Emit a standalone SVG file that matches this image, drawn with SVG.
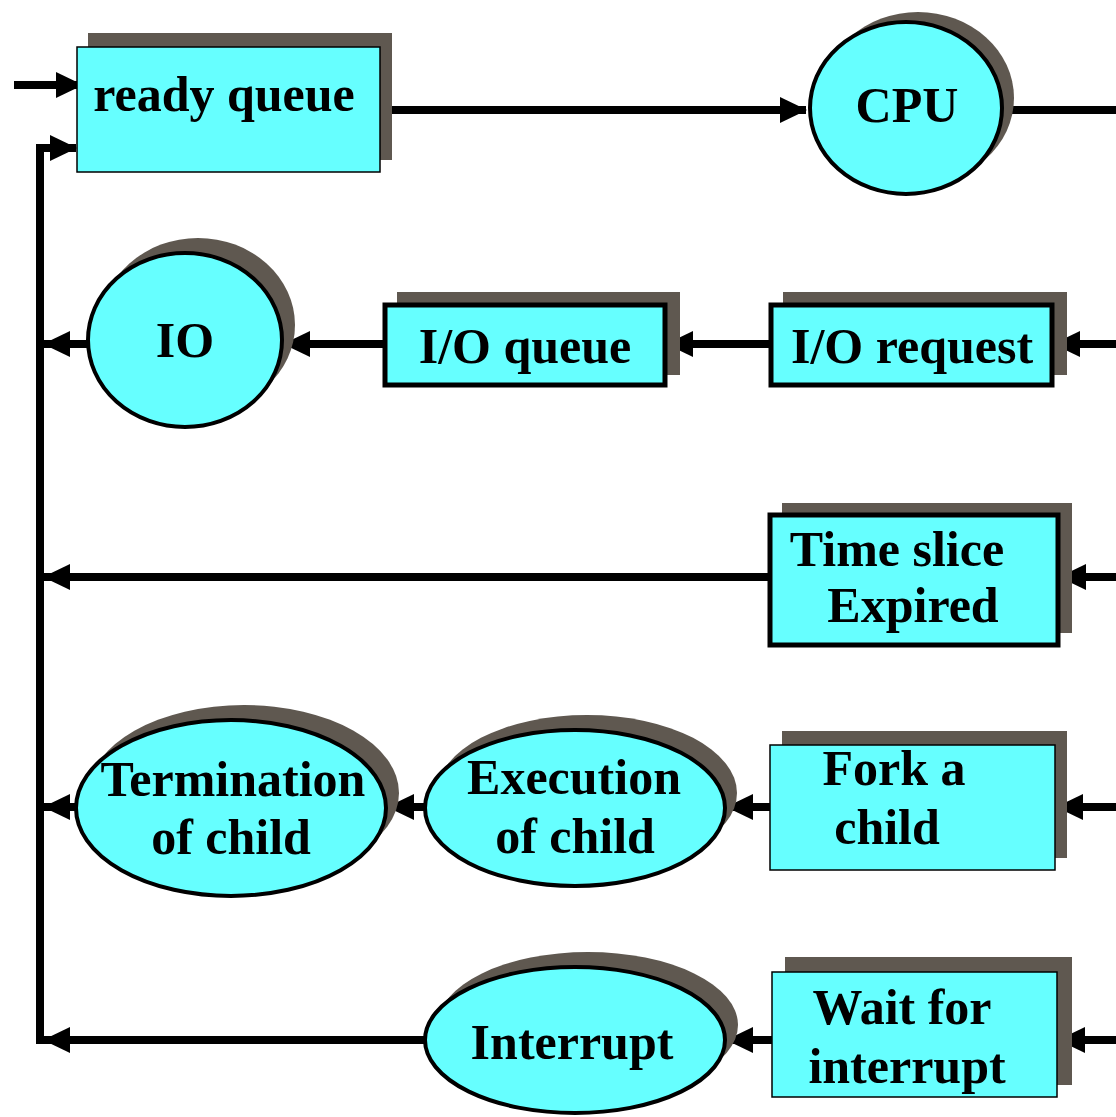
<svg xmlns="http://www.w3.org/2000/svg" width="1116" height="1117" viewBox="0 0 1116 1117">
<style>
.shadow{fill:#5f5850;stroke:none}
.box{fill:#66ffff;stroke:#000}
.thin{stroke-width:1.5}
.thick{stroke-width:5}
.oval{fill:#66ffff;stroke:#000;stroke-width:4}
.conn{fill:none;stroke:#000;stroke-width:8}
.lbl{font-family:'Liberation Serif','DejaVu Serif',serif;font-weight:bold;font-size:50px;fill:#000;text-anchor:middle}
</style>
<defs>
<marker id="ah" markerUnits="userSpaceOnUse" markerWidth="28" markerHeight="30" refX="26" refY="15" orient="auto" viewBox="0 0 28 30">
<path d="M0,2 L27,15 L0,28 Z" fill="#000"/>
</marker>
</defs>
<rect width="1116" height="1117" fill="#fff"/>
<g id="connectors">
<path class="conn" d="M14,85 H82" marker-end="url(#ah)"/>
<path class="conn" d="M40,1044 V148 H76" marker-end="url(#ah)"/>
<path class="conn" d="M380,110 H806" marker-end="url(#ah)"/>
<path class="conn" d="M1002,110 H1116"/>
<path class="conn" d="M1116,344 H1054" marker-end="url(#ah)"/>
<path class="conn" d="M771,344 H667" marker-end="url(#ah)"/>
<path class="conn" d="M385,344 H284" marker-end="url(#ah)"/>
<path class="conn" d="M88,344 H44" marker-end="url(#ah)"/>
<path class="conn" d="M1116,577 H1060" marker-end="url(#ah)"/>
<path class="conn" d="M770,577 H44" marker-end="url(#ah)"/>
<path class="conn" d="M1116,807 H1057" marker-end="url(#ah)"/>
<path class="conn" d="M770,807 H727" marker-end="url(#ah)"/>
<path class="conn" d="M425,807 H388" marker-end="url(#ah)"/>
<path class="conn" d="M76,807 H44" marker-end="url(#ah)"/>
<path class="conn" d="M1116,1040 H1059" marker-end="url(#ah)"/>
<path class="conn" d="M772,1040 H727" marker-end="url(#ah)"/>
<path class="conn" d="M425,1040 H44" marker-end="url(#ah)"/>
</g>
<g id="ready-queue">
<rect class="shadow" x="88" y="33" width="304" height="127"/>
<rect class="box thin" x="77" y="47" width="303" height="125"/>
<text class="lbl" x="224" y="111">ready queue</text>
</g>
<g id="cpu">
<ellipse class="shadow" cx="918" cy="98" rx="96" ry="86"/>
<ellipse class="oval" cx="906" cy="108" rx="96" ry="86"/>
<text class="lbl" x="907" y="122">CPU</text>
</g>
<g id="io">
<ellipse class="shadow" cx="198" cy="325" rx="97" ry="87"/>
<ellipse class="oval" cx="185" cy="340" rx="97" ry="87"/>
<text class="lbl" x="185" y="357">IO</text>
</g>
<g id="io-queue">
<rect class="shadow" x="397" y="292" width="283" height="83"/>
<rect class="box thick" x="385" y="305" width="280" height="80"/>
<text class="lbl" x="525" y="363">I/O queue</text>
</g>
<g id="io-request">
<rect class="shadow" x="783" y="292" width="284" height="83"/>
<rect class="box thick" x="771" y="305" width="281" height="80"/>
<text class="lbl" x="912" y="363">I/O request</text>
</g>
<g id="time-slice">
<rect class="shadow" x="782" y="503" width="290" height="130"/>
<rect class="box thick" x="770" y="515" width="288" height="130"/>
<text class="lbl" x="897" y="566">Time slice</text>
<text class="lbl" x="913" y="622">Expired</text>
</g>
<g id="termination">
<ellipse class="shadow" cx="244" cy="793" rx="155" ry="88"/>
<ellipse class="oval" cx="231" cy="808" rx="155" ry="88"/>
<text class="lbl" x="233" y="796">Termination</text>
<text class="lbl" x="231" y="854">of child</text>
</g>
<g id="execution">
<ellipse class="shadow" cx="587" cy="793" rx="150" ry="78"/>
<ellipse class="oval" cx="575" cy="808" rx="150" ry="78"/>
<text class="lbl" x="574" y="794">Execution</text>
<text class="lbl" x="575" y="853">of child</text>
</g>
<g id="fork">
<rect class="shadow" x="782" y="731" width="285" height="127"/>
<rect class="box thin" x="770" y="745" width="285" height="125"/>
<text class="lbl" x="894" y="785">Fork a</text>
<text class="lbl" x="887" y="844">child</text>
</g>
<g id="interrupt">
<ellipse class="shadow" cx="588" cy="1025" rx="150" ry="73"/>
<ellipse class="oval" cx="575" cy="1040" rx="150" ry="73"/>
<text class="lbl" x="572" y="1059">Interrupt</text>
</g>
<g id="wait">
<rect class="shadow" x="785" y="957" width="287" height="128"/>
<rect class="box thin" x="772" y="972" width="285" height="125"/>
<text class="lbl" x="902" y="1024">Wait for</text>
<text class="lbl" x="907" y="1083">interrupt</text>
</g>
</svg>
